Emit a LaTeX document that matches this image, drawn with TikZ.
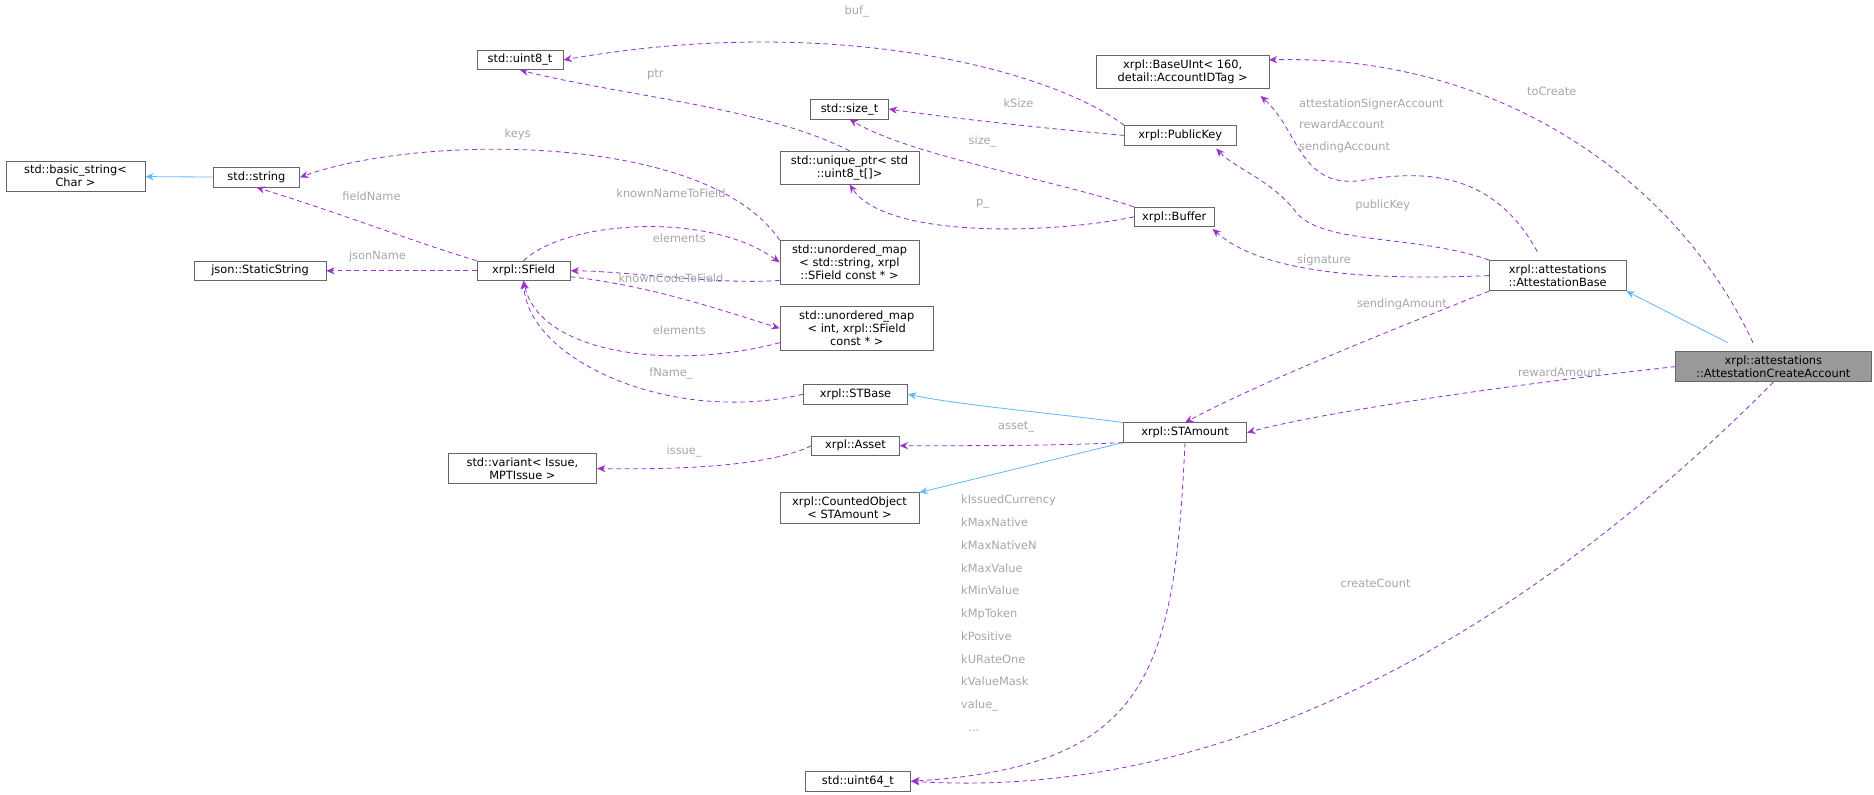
\documentclass[tikz,border=0pt]{standalone}
\usepackage{fontspec}
\setmainfont{DejaVu Sans}
\usetikzlibrary{arrows.meta}
\begin{document}
\begin{tikzpicture}[x=1pt,y=-1pt,
 box/.style={draw=black!60,fill=white,inner xsep=2pt,inner ysep=3.5pt,font=\fontsize{9.5}{11}\selectfont,align=center,line width=0.6pt},
 dep/.style={dashed,dash pattern=on 4pt off 3pt,line width=0.7pt,-{Stealth[length=7pt,width=6pt]}},
 inh/.style={line width=0.7pt,-{Stealth[length=7pt,width=6pt]}},
 lab/.style={text=black!35,font=\fontsize{9.5}{11}\selectfont,inner sep=1pt}]
\useasboundingbox (0,0) rectangle (1564,663);
\definecolor{dcol}{HTML}{9A32CD}
\definecolor{icol}{HTML}{63B8FF}
\tikzset{dep/.append style={draw=dcol},inh/.append style={draw=icol}}
\node[box,minimum width=116pt] (bs) at (63,147) {std::basic\_string\textless\\Char \textgreater};
\node[box,minimum width=72pt] (str) at (214,148) {std::string};
\node[box,minimum width=72pt] (u8) at (434,50) {std::uint8\_t};
\node[box,minimum width=65pt] (sz) at (709,91) {std::size\_t};
\node[box,minimum width=144pt] (bui) at (987,60) {xrpl::BaseUInt\textless{} 160,\\ detail::AccountIDTag \textgreater};
\node[box,minimum width=93pt] (pk) at (985,113) {xrpl::PublicKey};
\node[box,minimum width=116pt] (up) at (709,140) {std::unique\_ptr\textless{} std\\::uint8\_t[]\textgreater};
\node[box,minimum width=67pt] (buf) at (980,181) {xrpl::Buffer};
\node[box,minimum width=110pt] (js) at (217,226) {json::StaticString};
\node[box,minimum width=78pt] (sf) at (437,226) {xrpl::SField};
\node[box,minimum width=116pt] (um1) at (709,219) {std::unordered\_map\\\textless{} std::string, xrpl\\::SField const * \textgreater};
\node[box,minimum width=128pt] (um2) at (715,274) {std::unordered\_map\\\textless{} int, xrpl::SField\\ const * \textgreater};
\node[box,minimum width=114pt] (ab) at (1300,230) {xrpl::attestations\\::AttestationBase};
\node[box,minimum width=163pt,fill=black!40] (aca) at (1480,306) {xrpl::attestations\\::AttestationCreateAccount};
\node[box,minimum width=87pt] (stb) at (714,329) {xrpl::STBase};
\node[box,minimum width=103pt] (sta) at (989,361) {xrpl::STAmount};
\node[box,minimum width=73pt] (as) at (714,372) {xrpl::Asset};
\node[box,minimum width=124pt] (var) at (436,391) {std::variant\textless{} Issue,\\ MPTIssue \textgreater};
\node[box,minimum width=116pt] (co) at (709,424) {xrpl::CountedObject\\\textless{} STAmount \textgreater};
\node[box,minimum width=88pt] (u64) at (716,652) {std::uint64\_t};
\coordinate (acan) at (1463,286);
\coordinate (acai) at (1442,286);
\coordinate (abn) at (1283,210);
% inheritance
\draw[inh] (str) -- (bs);
\draw[inh] (acai) -- (ab.south east);
\draw[inh] (sta.north west) .. controls (880,345) and (800,338) .. (stb.east);
\draw[inh] (sta.south west) -- (co.north east);
% deps
\draw[dep] (pk.north west) .. controls (880,60) and (700,10) .. (u8.east);
\node[lab] at (715,10) {buf\_};
\draw[dep] (up.north) .. controls (640,90) and (520,80) .. (u8.south);
\node[lab] at (547,62) {ptr};
\draw[dep] (pk.west) .. controls (860,106) and (790,98) .. (sz.east);
\node[lab] at (850,86) {kSize};
\draw[dep] (buf.north west) .. controls (880,150) and (760,130) .. (sz.south);
\node[lab] at (820,118) {size\_};
\draw[dep] (buf.west) .. controls (880,195) and (740,200) .. (up.south);
\node[lab] at (820,170) {p\_};
\draw[dep] (um1.north west) .. controls (590,110) and (350,112) .. (str.east);
\node[lab] at (432,112) {keys};
\draw[dep] (sf.north west) .. controls (340,200) and (290,180) .. (str.south);
\node[lab] at (310,164) {fieldName};
\draw[dep] (sf.north) .. controls (470,185) and (590,175) .. (um1.west);
\node[lab] at (560,161) {knownNameToField};
\draw[dep] (um1.west) ++(0,15) coordinate (um1w) (um1w) .. controls (600,238) and (520,226) .. (sf.east);
\node[lab] at (567,199) {elements};
\draw[dep] (sf.west) -- (js.east);
\node[lab] at (315,214) {jsonName};
\draw[dep] (sf.east) ++(0,5) coordinate (sfe) (sfe) .. controls (540,238) and (600,258) .. (um2.west);
\node[lab] at (560,232) {knownCodeToField};
\draw[dep] (um2.west) ++(0,12) coordinate (um2w) (um2w) .. controls (560,310) and (450,295) .. (sf.south);
\node[lab] at (567,276) {elements};
\draw[dep] (stb.west) .. controls (560,355) and (440,300) .. (sf.south);
\node[lab] at (560,312) {fName\_};
\draw[dep] (abn) .. controls (1250,150) and (1200,140) .. (1140,150) .. controls (1085,160) and (1085,110) .. (1052,80);
\node[lab,align=left,anchor=north west] at (1083,81) {attestationSignerAccount\\[7pt]rewardAccount\\[7pt]sendingAccount};
\draw[dep] (ab.north west) .. controls (1180,195) and (1100,205) .. (1080,175) .. controls (1060,150) and (1030,140) .. (1015,124);
\node[lab] at (1154,171) {publicKey};
\draw[dep] (ab.west) .. controls (1130,235) and (1050,225) .. (1012,191);
\node[lab] at (1105,217) {signature};
\draw[dep] (ab.south west) .. controls (1150,280) and (1050,320) .. (sta.north);
\node[lab] at (1170,254) {sendingAmount};
\draw[dep] (acan) .. controls (1400,150) and (1250,45) .. (1059,50);
\node[lab] at (1295,76) {toCreate};
\draw[dep] (aca.west) .. controls (1250,322) and (1100,345) .. (sta.east);
\node[lab] at (1302,311) {rewardAmount};
\draw[dep] (aca.south) .. controls (1300,500) and (1050,670) .. (u64.east);
\node[lab] at (1148,487) {createCount};
\draw[dep] (sta.south west) .. controls (880,372) and (820,372) .. (as.east);
\node[lab] at (848,356) {asset\_};
\draw[dep] (as.west) .. controls (640,390) and (560,392) .. (var.east);
\node[lab] at (571,377) {issue\_};
\draw[dep] (sta.south) .. controls (980,560) and (960,640) .. (u64.east);
\node[lab,align=left,anchor=north west] at (801,412) {kIssuedCurrency\\[8pt]kMaxNative\\[8pt]kMaxNativeN\\[8pt]kMaxValue\\[8pt]kMinValue\\[8pt]kMpToken\\[8pt]kPositive\\[8pt]kURateOne\\[8pt]kValueMask\\[8pt]value\_\\[8pt]\hspace{6pt}...};
\end{tikzpicture}
\end{document}
